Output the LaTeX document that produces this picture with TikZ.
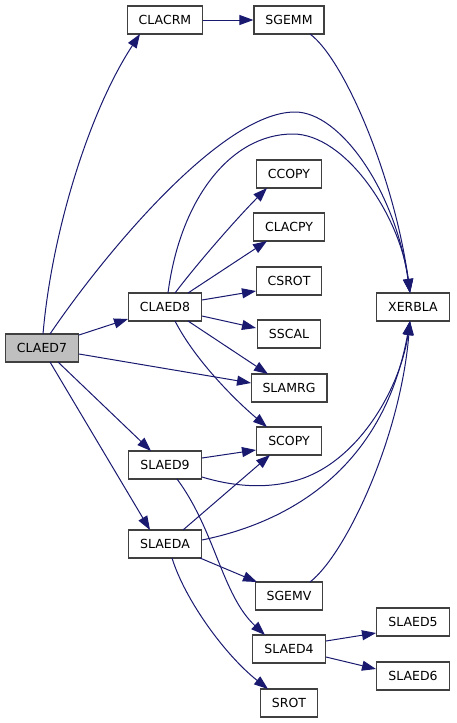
\documentclass[tikz,border=0pt]{standalone}
\usepackage{fontspec}
\setmainfont{DejaVu Sans}
\usetikzlibrary{arrows.meta,calc}
\definecolor{edgeblue}{HTML}{191970}
\definecolor{rootgray}{HTML}{BFBFBF}

\begin{document}
\begin{tikzpicture}[x=1pt,y=-1pt,
        box/.style={rectangle, draw=black!75, line width=1.1pt, minimum height=28pt, inner xsep=11.5pt, font=\fontsize{12.5}{15}\selectfont},
        call/.style={-{Triangle[length=14pt,width=10pt]}, draw=edgeblue, line width=1pt}]
        \useasboundingbox (0,0) rectangle (456,723);

        % Nodes
        \node(claed7) [box, fill=rootgray] at (42,348) {CLAED7};
        \node(clacrm) [box] at (165,20) {CLACRM};
        \node(sgemm) [box] at (289,20) {SGEMM};
        \node(ccopy) [box] at (289,174) {CCOPY};
        \node(clacpy) [box] at (289,227) {CLACPY};
        \node(csrot) [box] at (289,281) {CSROT};
        \node(claed8) [box] at (165,307) {CLAED8};
        \node(xerbla) [box] at (413,307) {XERBLA};
        \node(sscal) [box] at (289,334) {SSCAL};
        \node(slamrg) [box] at (289,388) {SLAMRG};
        \node(scopy) [box] at (289,441) {SCOPY};
        \node(slaed9) [box] at (165,465) {SLAED9};
        \node(slaeda) [box] at (165,544) {SLAEDA};
        \node(sgemv) [box] at (289,596) {SGEMV};
        \node(slaed5) [box] at (413,622) {SLAED5};
        \node(slaed4) [box] at (289,649) {SLAED4};
        \node(slaed6) [box] at (413,676) {SLAED6};
        \node(srot) [box] at (289,703) {SROT};

        % Edges
        \draw[call] ($(claed7)+(1,-14)$) .. controls (52,230) and (90,110) .. ($(clacrm)+(-25,14)$);
        \draw[call] (clacrm.east) -- (sgemm.west);
        \draw[call] ($(sgemm)+(21,14)$) .. controls (345,60) and (395,180) .. ($(xerbla)+(-3,-14)$);
        \draw[call] ($(claed7)+(8,-14)$) .. controls (100,260) and (220,112) .. (295,112)
            .. controls (340,112) and (395,190) .. ($(xerbla)+(-3,-14)$);
        \draw[call] ($(claed8)+(3,-14)$) .. controls (180,200) and (230,134) .. (293,134)
            .. controls (345,134) and (400,215) .. ($(xerbla)+(-3,-14)$);
        \draw[call] ($(claed8)+(10,-14)$) .. controls (200,260) and (240,215) .. ($(ccopy)+(-22,14)$);
        \draw[call] ($(claed8)+(23,-14)$) -- ($(clacpy)+(-22,14)$);
        \draw[call] ($(claed8)+(37,-7)$) -- ($(csrot)+(-33,10)$);
        \draw[call] ($(claed8)+(37,9)$) -- ($(sscal)+(-33,-6)$);
        \draw[call] ($(claed8)+(23,14)$) -- ($(slamrg)+(-21,-14)$);
        \draw[call] ($(claed8)+(10,14)$) .. controls (195,360) and (235,400) .. ($(scopy)+(-22,-14)$);
        \draw[call] ($(claed7)+(37,-13)$) -- ($(claed8)+(-37,12)$);
        \draw[call] ($(claed7)+(37,6)$) -- ($(slamrg)+(-38,-5)$);
        \draw[call] ($(claed7)+(16,14)$) -- ($(slaed9)+(-14,-14)$);
        \draw[call] ($(claed7)+(8,14)$) -- ($(slaeda)+(-15,-14)$);
        \draw[call] ($(slaed9)+(37,-7)$) -- ($(scopy)+(-33,9)$);
        \draw[call] ($(slaed9)+(37,12)$) .. controls (235,487) and (265,488) .. (290,482)
            .. controls (355,468) and (400,390) .. ($(xerbla)+(-3,14)$);
        \draw[call] ($(slaed9)+(12,14)$) .. controls (215,530) and (222,595) .. ($(slaed4)+(-24,-14)$);
        \draw[call] ($(slaeda)+(18,-14)$) -- ($(scopy)+(-19,14)$);
        \draw[call] ($(slaeda)+(37,-4)$) .. controls (300,520) and (385,460) .. ($(xerbla)+(-3,14)$);
        \draw[call] ($(slaeda)+(35,14)$) -- ($(sgemv)+(-32,-14)$);
        \draw[call] ($(slaeda)+(7,14)$) .. controls (185,600) and (225,655) .. ($(srot)+(-21,-14)$);
        \draw[call] ($(sgemv)+(21,-14)$) .. controls (345,555) and (400,440) .. ($(xerbla)+(-3,14)$);
        \draw[call] ($(slaed4)+(37,-8)$) -- ($(slaed5)+(-37,11)$);
        \draw[call] ($(slaed4)+(37,8)$) -- ($(slaed6)+(-37,-7)$);

    \end{tikzpicture}
\end{document}
